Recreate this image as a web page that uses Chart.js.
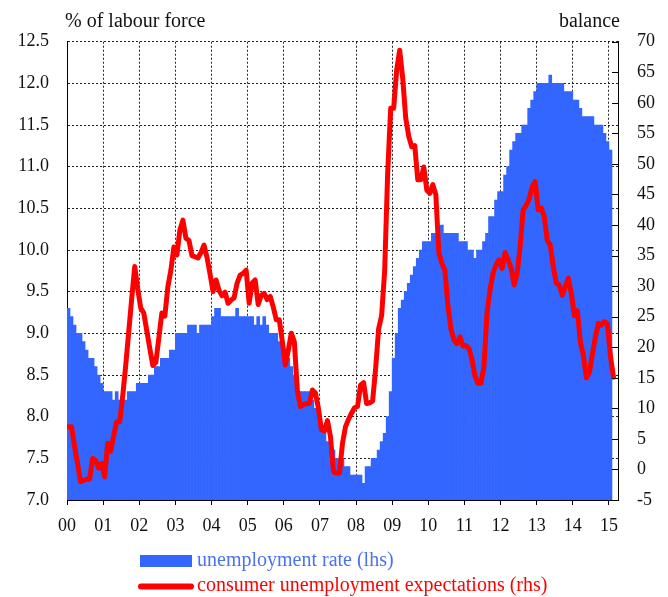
<!DOCTYPE html>
<html>
<head>
<meta charset="utf-8">
<title>Unemployment rate and expectations</title>
<script src="https://cdn.jsdelivr.net/npm/chart.js@4/dist/chart.umd.min.js"></script>
<style>
  html, body { margin: 0; padding: 0; background: #fff; }
  #wrap { width: 668px; height: 597px; }
</style>
</head>
<body>
<div id="wrap"><canvas id="unempChart" width="668" height="597"></canvas></div>
<script>
// monthly data, Jan 2000 onwards
const startYear = 2000;

// unemployment rate, % of labour force (lhs), Jan 2000 - Jan 2015
const unemploymentRate = [
  9.3, 9.2, 9.1, 9.0, 9.0, 8.9, 8.8, 8.7, 8.7, 8.6, 8.5, 8.4,   // 2000
  8.3, 8.3, 8.3, 8.2, 8.3, 8.2, 8.2, 8.2, 8.3, 8.3, 8.3, 8.4,   // 2001
  8.4, 8.4, 8.4, 8.5, 8.5, 8.6, 8.6, 8.7, 8.7, 8.7, 8.8, 8.8,   // 2002
  9.0, 9.0, 9.0, 9.0, 9.1, 9.1, 9.1, 9.0, 9.1, 9.1, 9.1, 9.1,   // 2003
  9.2, 9.3, 9.3, 9.2, 9.2, 9.2, 9.2, 9.2, 9.3, 9.2, 9.2, 9.2,   // 2004
  9.2, 9.2, 9.1, 9.2, 9.1, 9.2, 9.1, 9.0, 9.0, 9.0, 8.9, 8.8,   // 2005
  8.7, 8.7, 8.6, 8.5, 8.4, 8.3, 8.3, 8.3, 8.3, 8.2, 8.1, 8.0,   // 2006
  7.9, 7.8, 7.7, 7.6, 7.6, 7.5, 7.5, 7.5, 7.4, 7.4, 7.3, 7.3,   // 2007
  7.3, 7.3, 7.2, 7.4, 7.4, 7.5, 7.5, 7.6, 7.7, 7.8, 8.0, 8.3,   // 2008
  8.7, 9.0, 9.3, 9.4, 9.5, 9.6, 9.7, 9.8, 9.9, 10.0, 10.1, 10.1, // 2009
  10.1, 10.2, 10.2, 10.2, 10.3, 10.2, 10.2, 10.2, 10.2, 10.2, 10.1, 10.1, // 2010
  10.1, 10.0, 10.0, 9.9, 10.0, 10.0, 10.1, 10.2, 10.4, 10.4, 10.6, 10.7,  // 2011
  10.7, 10.9, 11.0, 11.2, 11.3, 11.4, 11.4, 11.5, 11.5, 11.7, 11.8, 11.9, // 2012
  12.0, 12.0, 12.0, 12.0, 12.1, 12.0, 12.0, 12.0, 12.0, 11.9, 11.9, 11.9, // 2013
  11.8, 11.8, 11.7, 11.6, 11.6, 11.6, 11.6, 11.5, 11.5, 11.5, 11.4, 11.3, // 2014
  11.2                                                                    // 2015
];

// consumer unemployment expectations, balance (rhs), Jan 2000 - Feb 2015
const unemploymentExpectations = [
  7, 7, 3.8, 1, -2, -1.8, -1.6, -1.6, 1.8, 1.5, 0.2, 1.0,              // 2000
  -1.2, 4.3, 3.0, 5.5, 7.8, 7.8, 12, 17, 22.5, 28, 33.2, 29.5,         // 2001
  26.4, 25.6, 22.7, 19.8, 17, 17.5, 21.5, 25.6, 25.1, 29.9, 32.6, 36.4, // 2002
  35.1, 39.2, 40.8, 37.8, 37.5, 35, 34.8, 34.6, 35.5, 36.7, 34.7, 32,   // 2003
  29.1, 31, 29.3, 28.4, 29, 27.2, 27.7, 28.1, 30.5, 31.8, 32.1, 32.6,   // 2004
  27.2, 30.5, 31, 27, 28.5, 28.8, 27.8, 28.3, 26.6, 24.5, 24.5, 21,     // 2005
  17.1, 19.5, 22.3, 20.9, 13, 10.3, 10.6, 10.8, 10.8, 13, 12.5, 10,     // 2006
  6.5, 6.3, 8, 5.4, -0.4, -0.6, -0.6, 4.3, 7, 8.2, 9.2, 10.1,          // 2007
  10.3, 13.8, 14.2, 10.8, 10.9, 11.2, 16.5, 23, 25.2, 32.5, 48.5, 59.1, // 2008
  59.1, 65.4, 68.6, 64, 57.5, 54.5, 52.8, 53, 47.4, 47.4, 49.5, 45.7,   // 2009
  45.2, 46.6, 45, 35.5, 33.7, 32.6, 27, 23, 21.2, 20.6, 21.7, 20.2,     // 2010
  20.3, 19.8, 18, 15.3, 14.1, 14.1, 17, 25.6, 29.4, 32.1, 33.5, 34.3,   // 2011
  32.9, 35.5, 34.3, 33, 30.2, 32.1, 36.5, 42.5, 43.2, 44.3, 46.3, 47.1, // 2012
  42.5, 42.8, 41.4, 37.5, 36.7, 33.2, 30.5, 30.2, 28.5, 29.9, 31.3, 28.8, // 2013
  25.2, 26, 20.8, 18.7, 15, 15.9, 18.9, 21.7, 23.9, 23.6, 24.2, 23.8,   // 2014
  18.5, 15.1                                                            // 2015
];

const seriesNames = ['unemployment rate (lhs)', 'consumer unemployment expectations (rhs)'];
const leftTitle = '% of labour force';
const rightTitle = 'balance';

// month i sits in the middle of its month on a year axis
function monthPoints(values) {
  return values.map((v, i) => ({ x: startYear + (i + 0.5) / 12, y: v }));
}

const BLUE = '#3366ff';
const RED = '#ff0000';
const FONT = "'Liberation Serif', 'Times New Roman', serif";

// axis titles, the legend and the inner right-axis ticks
const extrasPlugin = {
  id: 'extras',
  afterDraw(chart) {
    const ctx = chart.ctx;
    const area = chart.chartArea;
    const y1 = chart.scales.y1;
    ctx.save();

    // small inward ticks on the right axis
    ctx.strokeStyle = '#000';
    ctx.lineWidth = 1;
    y1.ticks.forEach(t => {
      const py = Math.round(y1.getPixelForValue(t.value)) + 0.5;
      ctx.beginPath();
      ctx.moveTo(area.right, py);
      ctx.lineTo(area.right - 6, py);
      ctx.stroke();
    });

    // titles above the axes
    ctx.font = '20px ' + FONT;
    ctx.fillStyle = '#111';
    ctx.textBaseline = 'middle';
    ctx.textAlign = 'left';
    ctx.fillText(leftTitle, 65, 22);
    ctx.textAlign = 'right';
    ctx.fillText(rightTitle, 620, 22);

    // legend below the axis
    const bars = chart.data.datasets.find(d => d.type === 'bar');
    const line = chart.data.datasets.find(d => d.type === 'line');
    ctx.textAlign = 'left';
    ctx.fillStyle = bars.backgroundColor;
    ctx.fillRect(140, 555, 52, 12);
    ctx.fillStyle = '#4a72f0';
    ctx.fillText(bars.label, 197, 561);

    ctx.strokeStyle = line.borderColor;
    ctx.lineWidth = 6;
    ctx.lineCap = 'round';
    ctx.beginPath();
    ctx.moveTo(141, 586.5);
    ctx.lineTo(191, 586.5);
    ctx.stroke();
    ctx.fillStyle = line.borderColor;
    ctx.fillText(line.label, 197, 586);

    ctx.restore();
  }
};

const gridDash = [2, 2];

new Chart(document.getElementById('unempChart').getContext('2d'), {
  type: 'bar',
  data: {
    datasets: [
      {
        type: 'line',
        label: seriesNames[1],
        data: monthPoints(unemploymentExpectations),
        yAxisID: 'y1',
        borderColor: RED,
        borderWidth: 5,
        borderJoinStyle: 'round',
        borderCapStyle: 'round',
        pointRadius: 0,
        tension: 0,
        order: 0
      },
      {
        type: 'bar',
        label: seriesNames[0],
        data: monthPoints(unemploymentRate),
        yAxisID: 'y',
        backgroundColor: BLUE,
        borderWidth: 0,
        barPercentage: 1,
        categoryPercentage: 1,
        order: 1
      }
    ]
  },
  options: {
    responsive: false,
    animation: false,
    layout: { padding: { top: 41.7, left: 0, right: 0, bottom: 0 } },
    plugins: {
      legend: { display: false },
      tooltip: { enabled: false }
    },
    scales: {
      x: {
        type: 'linear',
        min: 2000,
        max: 2015.25,
        offset: false,
        grid: {
          offset: false,
          color: '#222',
          drawTicks: true,
          tickLength: 5,
          tickColor: '#000',
          tickBorderDash: []
        },
        border: { display: true, color: '#000', width: 1, dash: gridDash },
        ticks: {
          stepSize: 1,
          includeBounds: false,
          padding: 10,
          maxRotation: 0,
          autoSkip: false,
          color: '#111',
          font: { family: FONT, size: 18 },
          callback: v => String(Math.round(v)).slice(2)
        },
        afterBuildTicks: scale => {
          scale.ticks = scale.ticks.filter(t => Math.abs(t.value - Math.round(t.value)) < 1e-6);
        },
        afterFit: scale => { scale.height = 97; }
      },
      y: {
        position: 'left',
        min: 7,
        max: 12.5,
        grid: { color: '#222', drawTicks: false },
        border: { display: true, color: '#000', width: 1, dash: gridDash },
        ticks: {
          stepSize: 0.5,
          padding: 18,
          color: '#111',
          font: { family: FONT, size: 18 },
          callback: v => Number(v).toFixed(1)
        },
        afterFit: scale => { scale.width = 67; }
      },
      y1: {
        position: 'right',
        min: -5,
        max: 70,
        grid: { drawOnChartArea: false, drawTicks: false },
        border: { display: true, color: '#000', width: 1 },
        ticks: {
          stepSize: 5,
          padding: 19,
          color: '#111',
          font: { family: FONT, size: 18 }
        },
        afterFit: scale => { scale.width = 50; }
      }
    }
  },
  plugins: [extrasPlugin]
});
</script>
</body>
</html>
